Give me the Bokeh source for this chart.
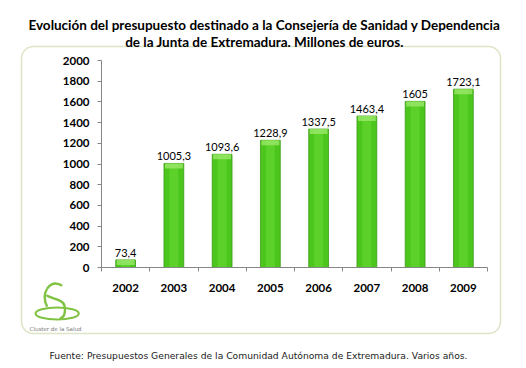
from bokeh.plotting import figure
from bokeh.models import (Range1d, FixedTicker, ColumnDataSource, LabelSet, Label,
                          BoxAnnotation)
from bokeh.core.properties import value
from bokeh.embed import file_html
from bokeh.resources import INLINE

# ---- data ----
years = ["2002", "2003", "2004", "2005", "2006", "2007", "2008", "2009"]
budget = [73.4, 1005.3, 1093.6, 1228.9, 1337.5, 1463.4, 1605, 1723.1]
labels = ["73,4", "1005,3", "1093,6", "1228,9", "1337,5", "1463,4", "1605", "1723,1"]
y_ticks = list(range(0, 2001, 200))

title_line1 = "Evolución del presupuesto destinado a la Consejería de Sanidad y Dependencia"
title_line2 = "de la Junta de Extremadura. Millones de euros."
footer = "Fuente: Presupuestos Generales de la Comunidad Autónoma de Extremadura. Varios años."
logo_text = "Cluster de la Salud"

# ---- layout (canvas pixels) ----
W, H = 510, 366
PL, PR, PT, PB = 101, 487, 60, 267   # plot area edges (where the axes sit)
YMAX = 2000
NX = len(years)

def dx(px):
    return (px - PL) / (PR - PL) * NX

def dy(py):
    return (PB - py) / (PB - PT) * YMAX

def sx(n):   # pixel length -> data length (x)
    return n * NX / (PR - PL)

def sy(n):   # pixel length -> data length (y)
    return n * YMAX / (PB - PT)

p = figure(width=W, height=H, output_backend="svg", toolbar_location=None,
           title=None,
           x_range=Range1d(dx(0), dx(W)), y_range=Range1d(dy(H), dy(0)),
           min_border_left=0, min_border_right=0,
           min_border_top=0, min_border_bottom=0)
p.outline_line_color = None
p.xgrid.grid_line_color = None
p.ygrid.grid_line_color = None
p.background_fill_color = "white"
p.border_fill_color = "white"

# rounded frame box
p.add_layout(BoxAnnotation(left=dx(21), right=dx(500), top=dy(46), bottom=dy(333),
                           fill_alpha=0, line_color="#8FA842", line_width=1.5,
                           border_radius=12, level="underlay"))

# title
for txt, base in ((title_line1, 24), (title_line2, 41)):
    p.add_layout(Label(x=dx(264), y=dy(base), text=txt, text_align="center",
                       text_baseline="alphabetic", text_font="Lato",
                       text_font_style="bold", text_font_size="13.5px",
                       text_color="black"))

# bars
xs = [i + 0.5 for i in range(NX)]
src = ColumnDataSource(dict(x=xs, top=budget, lab=labels,
                            cap=[v - sy(5) for v in budget]))
bar_w = 0.41
p.vbar(x="x", top="top", bottom=0, width=bar_w, source=src,
       fill_color="#4CC61C", line_color="#3B9A14", line_width=0.8)
p.vbar(x="x", top="top", bottom=0, width=bar_w * 0.45, source=src,
       fill_color="#6ADB35", fill_alpha=0.55, line_color=None)
p.vbar(x="x", top="top", bottom="cap", width=bar_w * 0.9, source=src,
       fill_color="#9BE96A", fill_alpha=0.8, line_color=None)

p.add_layout(LabelSet(x="x", y="top", text="lab", source=src, text_align="center",
                      text_baseline="alphabetic", y_offset=3,
                      text_font=value("Lato"), text_font_size="11px",
                      text_color="black"))

# axes (fixed at the data origin)
ax = p.xaxis[0]
ax.fixed_location = 0
ax.bounds = (0, NX)
ax.ticker = FixedTicker(ticks=xs, minor_ticks=list(range(NX + 1)))
ax.major_label_overrides = {x: y for x, y in zip(xs, years)}
ax.major_tick_out = 0
ax.major_tick_in = 0
ax.minor_tick_out = 4
ax.minor_tick_in = 0
ax.major_label_standoff = 12
ax.major_label_text_font = "Lato"
ax.major_label_text_font_style = "bold"
ax.major_label_text_font_size = "11.5px"
ax.major_label_text_color = "black"
ax.axis_line_color = "#868686"
ax.minor_tick_line_color = "#868686"

ay = p.yaxis[0]
ay.fixed_location = 0
ay.bounds = (0, YMAX)
ay.ticker = FixedTicker(ticks=y_ticks, minor_ticks=[])
ay.major_tick_out = 4
ay.major_tick_in = 0
ay.major_label_standoff = 8
ay.major_label_text_font = "Lato"
ay.major_label_text_font_style = "bold"
ay.major_label_text_font_size = "11.5px"
ay.major_label_text_color = "black"
ay.axis_line_color = "#868686"
ay.major_tick_line_color = "#868686"

# logo (decorative), drawn in pixel space of the reference via dx/dy
def zx(v):
    return dx(30 + v / 3)

def zy(v):
    return dy(278 + v / 3)

logo_col = "#80C242"
p.quadratic(x0=[zx(95), zx(50)], y0=[zy(22), zy(30)],
            x1=[zx(50), zx(50)], y1=[zy(30), zy(85)],
            cx=[zx(70), zx(35)], cy=[zy(5), zy(55)],
            line_color=logo_col, line_width=2.4)
p.bezier(x0=[zx(48), zx(103)], y0=[zy(50), zy(85)],
         x1=[zx(103), zx(88)], y1=[zy(85), zy(120)],
         cx0=[zx(60), zx(105)], cy0=[zy(62), zy(105)],
         cx1=[zx(100), zx(100)], cy1=[zy(60), zy(118)],
         line_color=logo_col, line_width=2.4)
p.ellipse(x=[zx(80)], y=[zy(105)], width=[sx(130 / 3)], height=[sy(36 / 3)],
          fill_color=None, line_color=logo_col, line_width=2)
p.add_layout(Label(x=dx(55), y=dy(328), text=logo_text, text_align="center",
                   text_baseline="middle", text_font="DejaVu Sans",
                   text_font_size="5.5px", text_color="#7a7a7a"))

# footer
p.add_layout(Label(x=dx(258), y=dy(355), text=footer, text_align="center",
                   text_baseline="middle", text_font="DejaVu Sans",
                   text_font_size="9.2px", text_color="#222222"))

open("out.html", "w").write(file_html(p, INLINE))
